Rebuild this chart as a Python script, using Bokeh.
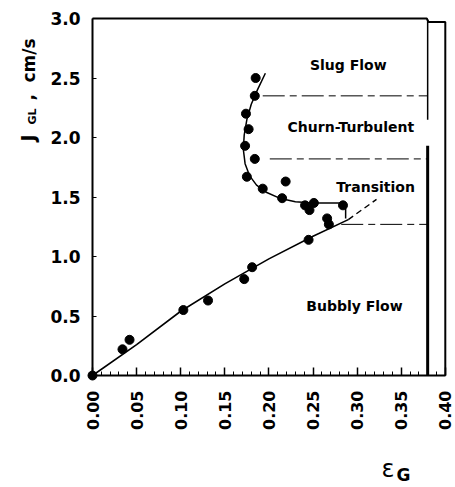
import math
from bokeh.plotting import figure
from bokeh.models import FixedTicker, Label, Range1d, PrintfTickFormatter
from bokeh.embed import file_html
from bokeh.resources import INLINE

# ---- data ----
eps_pts = [0.185, 0.184, 0.174, 0.177, 0.173, 0.184, 0.175, 0.193, 0.219, 0.215,
           0.251, 0.241, 0.246, 0.284, 0.266, 0.268, 0.245, 0.181, 0.172, 0.131,
           0.103, 0.042, 0.034, 0.0]
jgl_pts = [2.50, 2.35, 2.20, 2.07, 1.93, 1.82, 1.67, 1.57, 1.63, 1.49,
           1.45, 1.43, 1.39, 1.43, 1.32, 1.27, 1.14, 0.91, 0.81, 0.63,
           0.55, 0.30, 0.22, 0.0]

# bubbly-flow fit (solid) and its dashed extension
fit_x = [0.0, 0.05, 0.10, 0.15, 0.20, 0.25, 0.29]
fit_y = [0.0, 0.26, 0.54, 0.77, 0.98, 1.17, 1.31]
ext_x = [0.29, 0.322]
ext_y = [1.31, 1.48]

# upper S-shaped curve
curve_x = [0.196, 0.187, 0.180, 0.175, 0.172, 0.171, 0.173, 0.178, 0.186, 0.197,
           0.212, 0.230, 0.250, 0.287, 0.287]
curve_y = [2.54, 2.40, 2.28, 2.15, 2.02, 1.90, 1.78, 1.68, 1.60, 1.54,
           1.49, 1.46, 1.45, 1.45, 1.32]

# regime boundaries
bound_y = [2.35, 1.82, 1.27]
bound_x0 = [0.193, 0.201, 0.282]
bound_x1 = [0.380, 0.380, 0.380]
wall_x = 0.380
wall_upper = [2.99, 2.15]
wall_lower = [1.93, 0.0]

regions = ["Slug Flow", "Churn-Turbulent", "Transition", "Bubbly Flow"]
region_x = [0.290, 0.293, 0.321, 0.297]
region_y = [2.61, 2.09, 1.58, 0.58]

x_ticks = [0.00, 0.05, 0.10, 0.15, 0.20, 0.25, 0.30, 0.35, 0.40]
x_minor = [round(i * 0.01, 2) for i in range(0, 41)]
y_ticks = [0.0, 0.5, 1.0, 1.5, 2.0, 2.5, 3.0]
x_max = 0.40
y_max = 3.0

FONT = "DejaVu Sans"
W, H = 455, 487
X0PX, Y0PX = 92, 375          # pixel position of the data origin
XS, YS = 882.0, 119.0         # pixels per data unit

p = figure(width=W, height=H, output_backend="svg", toolbar_location=None,
           x_range=Range1d(-X0PX / XS, (W - X0PX) / XS),
           y_range=Range1d(-(H - Y0PX) / YS, Y0PX / YS),
           min_border=0)
p.grid.visible = False
p.background_fill_color = "white"
p.border_fill_color = "white"
p.outline_line_color = None

xa = p.xaxis[0]
xa.fixed_location = 0
xa.bounds = (0, x_max)
xa.ticker = FixedTicker(ticks=x_ticks, minor_ticks=x_minor)
xa.formatter = PrintfTickFormatter(format="%.2f")
xa.major_label_orientation = math.pi / 2
xa.major_label_text_font = FONT
xa.major_label_text_font_style = "bold"
xa.major_label_text_font_size = "16px"
xa.major_label_text_color = "black"
xa.major_label_standoff = 15
xa.major_tick_in = 8
xa.major_tick_out = 0
xa.minor_tick_in = 4
xa.minor_tick_out = 0
xa.axis_line_width = 2
xa.major_tick_line_width = 1.5

ya = p.yaxis[0]
ya.fixed_location = 0
ya.bounds = (0, y_max)
ya.ticker = FixedTicker(ticks=y_ticks)
ya.formatter = PrintfTickFormatter(format="%.1f")
ya.major_label_text_font = FONT
ya.major_label_text_font_style = "bold"
ya.major_label_text_font_size = "17px"
ya.major_label_text_color = "black"
ya.major_label_standoff = 12
ya.major_tick_in = 4
ya.major_tick_out = 0
ya.minor_tick_line_color = None
ya.axis_line_width = 2

# plot box: top and right edges
p.line([0, 0.379, 0.381, x_max, x_max], [y_max, y_max, 2.97, 2.97, 0],
       line_color="black", line_width=2)

# boundaries
for by, bx0, bx1 in zip(bound_y, bound_x0, bound_x1):
    p.line([bx0, bx1], [by, by], line_color="black", line_width=1,
           line_dash="22 5 7 5")
p.line([wall_x, wall_x], wall_upper, line_color="black", line_width=1.5)
p.line([wall_x, wall_x], wall_lower, line_color="black", line_width=3)

# fits
p.line(fit_x, fit_y, line_color="black", line_width=1.6)
p.line(ext_x, ext_y, line_color="black", line_width=1.4, line_dash="6 4")
p.line(curve_x, curve_y, line_color="black", line_width=1.5)

# points
p.scatter(eps_pts, jgl_pts, size=9, marker="circle", fill_color="black",
          line_color="black")

for t, x, y in zip(regions, region_x, region_y):
    p.add_layout(Label(x=x, y=y, text=t, text_align="center", text_baseline="middle",
                       text_font=FONT, text_font_style="bold",
                       text_font_size="14px", text_color="black"))

# y-axis title pieces (J_GL, cm/s), rotated
px2x = lambda px: (px - X0PX) / XS
py2y = lambda py: (Y0PX - py) / YS
ylab = [("J", 27, 141, "19px"), ("GL", 32, 124, "11px"), (",", 27, 100, "17px"),
        ("cm/s", 28, 82, "17px")]
for t, xx, yy, fs in ylab:
    p.add_layout(Label(x=px2x(xx), y=py2y(yy), text=t, angle=math.pi / 2,
                       text_align="left", text_baseline="alphabetic",
                       text_font=FONT, text_font_style="bold",
                       text_font_size=fs, text_color="black"))

# x-axis title ε_G
p.add_layout(Label(x=px2x(381), y=py2y(468), text="ε", text_align="left",
                   text_baseline="alphabetic", text_font=FONT,
                   text_font_size="24px", text_color="black"))
p.add_layout(Label(x=px2x(396), y=py2y(474), text="G", text_align="left",
                   text_baseline="alphabetic", text_font=FONT, text_font_style="bold",
                   text_font_size="17px", text_color="black"))

open("out.html", "w").write(file_html(p, INLINE))
